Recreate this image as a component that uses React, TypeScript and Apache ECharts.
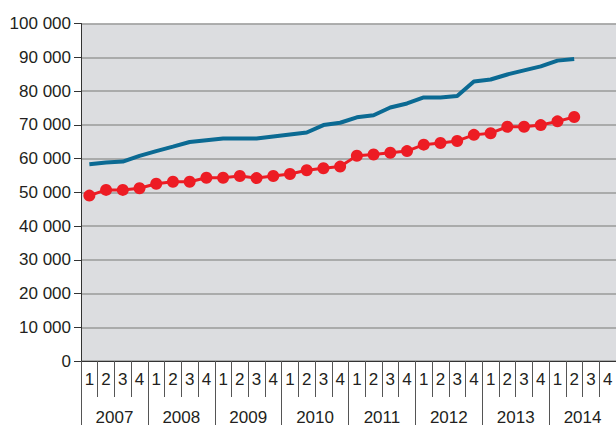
import React, { useEffect, useRef } from "react";
import * as echarts from "echarts";

const years = ["2007", "2008", "2009", "2010", "2011", "2012", "2013", "2014"];
const quarterNames = ["1", "2", "3", "4"];
const quarters: string[] = [];
years.forEach((y) => quarterNames.forEach((q) => quarters.push(q)));

const blueSeries = [
  58300, 58800, 59100, 60800, 62200, 63500, 64900, 65400, 65900, 65900, 65900,
  66500, 67100, 67700, 69900, 70600, 72200, 72800, 75100, 76300, 78100, 78100,
  78500, 82800, 83400, 84900, 86100, 87300, 89000, 89500,
];
const redSeries = [
  49000, 50700, 50700, 51200, 52500, 53100, 53100, 54300, 54300, 54800, 54200,
  54800, 55400, 56500, 57100, 57600, 60800, 61200, 61700, 62200, 64100, 64600,
  65200, 67000, 67500, 69400, 69400, 69900, 71000, 72300,
];

const fmt = (v: number) =>
  String(v).replace(/\B(?=(\d{3})+(?!\d))/g, " ");

export default function App() {
  const ref = useRef<HTMLDivElement>(null);
  useEffect(() => {
    if (!ref.current) return;
    const chart = echarts.init(ref.current, null, { renderer: "svg" });
    const font = "'Liberation Sans', Arial, sans-serif";
    chart.setOption({
      animation: false,
      grid: {
        left: 81,
        right: 0,
        top: 23.5,
        bottom: 62.5,
        show: true,
        backgroundColor: "#dcdde0",
        borderWidth: 0,
      },
      xAxis: [
        {
          type: "category",
          data: quarters,
          position: "bottom",
          boundaryGap: true,
          axisLine: { show: true, lineStyle: { color: "#333", width: 1 } },
          axisTick: {
            show: true,
            interval: 0,
            length: 36,
            lineStyle: { color: "#555", width: 1 },
          },
          axisLabel: {
            interval: 0,
            margin: 10,
            fontSize: 17,
            fontFamily: font,
            color: "#231f20",
          },
          splitLine: { show: false },
        },
        {
          type: "category",
          data: years,
          position: "bottom",
          boundaryGap: true,
          axisLine: { show: false },
          axisTick: {
            show: true,
            interval: 0,
            length: 64,
            lineStyle: { color: "#555", width: 1 },
          },
          axisLabel: {
            interval: 0,
            margin: 48,
            fontSize: 17,
            fontFamily: font,
            color: "#231f20",
          },
          splitLine: { show: false },
        },
      ],
      yAxis: {
        type: "value",
        min: 0,
        max: 100000,
        interval: 10000,
        axisLine: { show: true, lineStyle: { color: "#333", width: 1 } },
        axisTick: { show: true, length: 7, lineStyle: { color: "#333" } },
        axisLabel: {
          margin: 10,
          fontSize: 17,
          fontFamily: font,
          color: "#231f20",
          formatter: (v: number) => fmt(v),
        },
        splitLine: { show: true, lineStyle: { color: "#9a9a9a", width: 1.5 } },
      },
      series: [
        {
          type: "line",
          xAxisIndex: 0,
          data: blueSeries,
          symbol: "none",
          lineStyle: { color: "#0b6a93", width: 4 },
          itemStyle: { color: "#0b6a93" },
        },
        {
          type: "line",
          xAxisIndex: 0,
          data: redSeries,
          symbol: "circle",
          symbolSize: 12,
          showSymbol: true,
          lineStyle: { color: "#ed1c24", width: 3 },
          itemStyle: { color: "#ed1c24" },
        },
      ],
    });
    return () => chart.dispose();
  }, []);
  return <div ref={ref} style={{ width: 616, height: 426, position: "absolute", left: 0, top: 0 }} />;
}
